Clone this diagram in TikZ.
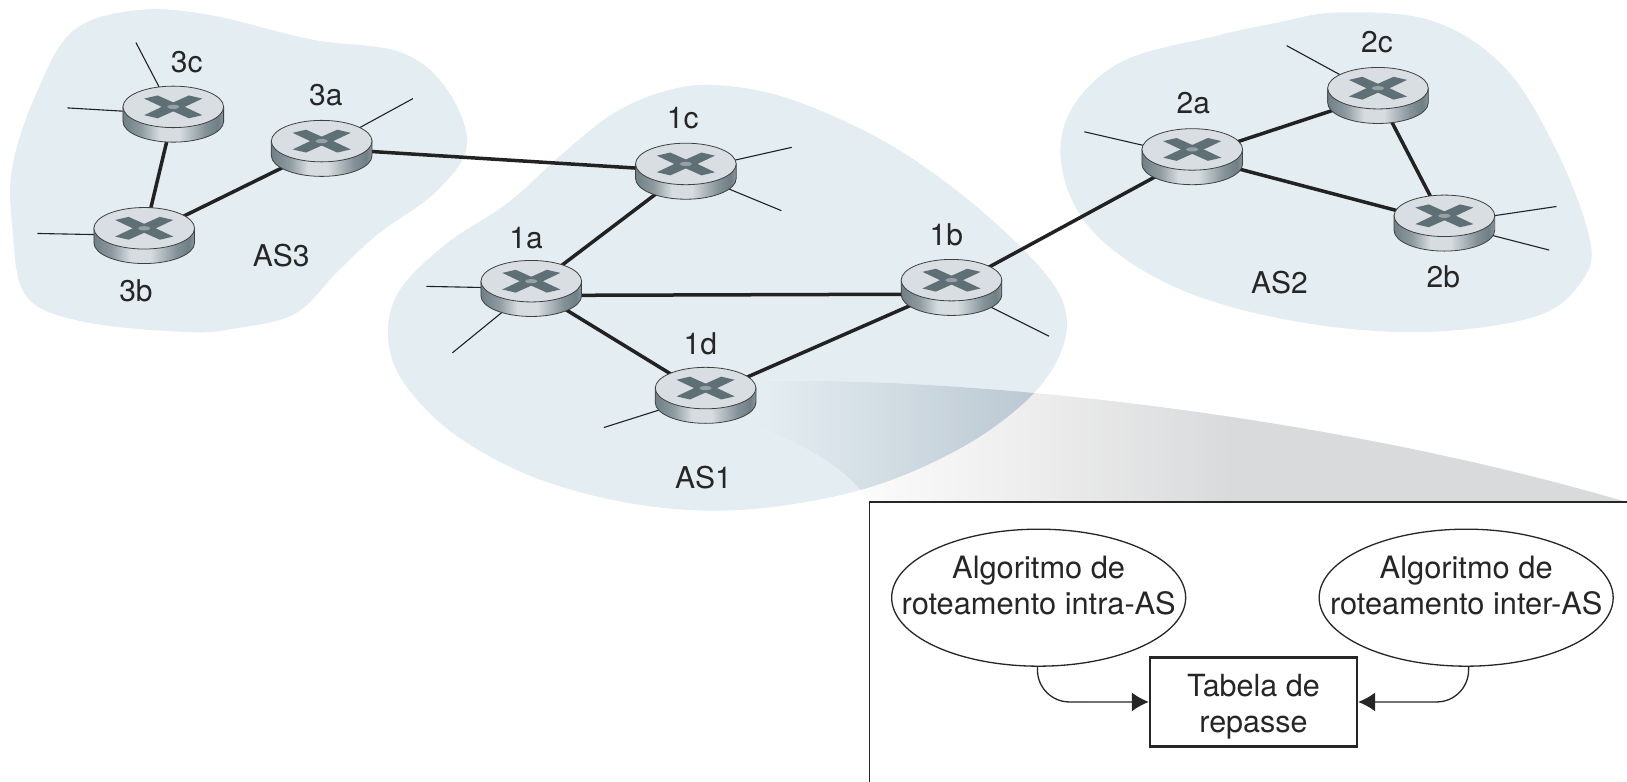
\documentclass[tikz,border=0pt]{standalone}
\usepackage{fontspec}
\setmainfont{TeX Gyre Heros}
\usetikzlibrary{positioning,shapes.geometric,arrows.meta,backgrounds}

\definecolor{cloud}{HTML}{E4EDF2}
\definecolor{routertop}{HTML}{D8DEE2}
\definecolor{routermark}{HTML}{5F6F76}
\definecolor{routerside}{HTML}{6F7F86}
\definecolor{routerlight}{HTML}{D6DCDF}
\definecolor{linkcol}{HTML}{222222}
\definecolor{conedark}{HTML}{B9C6D0}
\definecolor{conegrey}{HTML}{D9DADC}

\pgfdeclarehorizontalshading{coneout}{100bp}{color(0bp)=(white); color(30bp)=(white); color(42bp)=(white!93!black); color(53bp)=(conegrey); color(100bp)=(conegrey)}
\pgfdeclarehorizontalshading{conein}{100bp}{color(0bp)=(cloud); color(27bp)=(cloud); color(43bp)=(conedark); color(100bp)=(conedark)}
\pgfdeclarehorizontalshading{routerbody}{100bp}{color(0bp)=(routerside); color(25bp)=(routerside); color(34bp)=(routerside!70!routerlight); color(43bp)=(routerlight); color(53bp)=(routerlight); color(66bp)=(routerside!80!routerlight); color(72bp)=(routerside); color(75bp)=(routerside!75!routerlight); color(100bp)=(routerside)}

\tikzset{
  as/.style={fill=cloud, draw=none},
  router/.style={ellipse, minimum width=100pt, minimum height=55pt, inner sep=0pt},
  body/.style={draw=black!75, line width=0.8pt, shading=routerbody},
  routerhead/.style={draw=black!75, line width=0.8pt, fill=routertop},
  link/.style={draw=linkcol, line width=3.5pt},
  stub/.style={draw=linkcol, line width=1.1pt},
  tag/.style={font=\fontsize{30}{34}\selectfont, text=black!85},
  algo/.style={ellipse, draw=black!85, line width=1.3pt, fill=white, minimum width=294pt, minimum height=137pt, inner sep=0pt},
  algotext/.style={font=\fontsize{30.8}{36}\selectfont, align=center, text=black!85, yshift=12pt},
  tabela/.style={rectangle, draw=black!85, line width=2.4pt, fill=white, minimum width=207pt, minimum height=89pt, align=center, inner sep=0pt, font=\fontsize{30.5}{36}\selectfont, text=black!85},
  feed/.style={draw=black!85, line width=1.3pt, rounded corners=32pt, -{Latex[length=17pt,width=19pt]}},
}

\def\asone{(690,82) (760,95) (850,135) (930,190) (1000,255) (1027,300) (1020,345) (985,390) (920,435) (830,472) (720,491) (620,487) (520,462) (440,420) (390,370) (374,325) (385,280) (430,235) (490,195) (540,150) (590,110) (640,88)}
\def\astwo{(1290,12) (1380,20) (1450,65) (1500,145) (1532,230) (1525,270) (1480,305) (1370,320) (1250,310) (1140,280) (1060,230) (1025,170) (1030,110) (1080,60) (1170,35) (1230,22)}
\def\asthree{(130,10) (200,14) (300,38) (385,50) (430,85) (450,140) (420,185) (365,225) (325,262) (285,302) (230,316) (180,320) (80,310) (25,285) (12,220) (12,160) (35,90) (70,30)}
\def\cone{(700,370) -- (735,367) .. controls (964,364) and (1301,405) .. (1568,484) -- (838,484) .. controls (815,448) and (761,419) .. (708,407) -- cycle}

\begin{document}
\begin{tikzpicture}[x=1.0376pt, y=-1.0376pt]
  \useasboundingbox (0,0) rectangle (1568,753.6);

  %%% Routers %%%

  \foreach \name/\x/\y in {3c/167/110, 3a/310/143, 3b/139/227, 1c/661/165, 1a/512/278, 1b/917/277, 1d/680/381, 2a/1149/151, 2c/1328/92, 2b/1392/215}{
      \node[router] (\name) at (\x,\y) {};
      \begin{scope}[shift={(\x,\y)}]
        \shadedraw[body] (-48.5,-7) -- (-48.5,7) .. controls (-48.5,18) and (-26.8,27) .. (0,27) .. controls (26.8,27) and (48.5,18) .. (48.5,7) -- (48.5,-7) -- cycle;
        \path[routerhead] (0,-7) ellipse [x radius=48.5, y radius=20];
        \foreach \sx in {1,-1}
        \foreach \sy in {1,-1}
        \fill[routermark, shift={(0,-7)}, xscale=\sx, yscale=\sy] (-28,-8) -- (-15,-11) -- (4,-2.5) -- (-9,1) -- cycle;
        \fill[routermark!55!routertop] (0,-7) ellipse [x radius=6, y radius=2];
      \end{scope}
    }

  %%% Clouds %%%

  \begin{scope}[on background layer]
    \fill[as] plot[smooth cycle, tension=0.6] coordinates {\asone};
    \fill[as] plot[smooth cycle, tension=0.6] coordinates {\astwo};
    \fill[as] plot[smooth cycle, tension=0.6] coordinates {\asthree};
    \shade[shading=coneout] \cone;
    \begin{scope}
      \clip plot[smooth cycle, tension=0.6] coordinates {\asone};
      \shade[shading=conein] \cone;
    \end{scope}

    \foreach \source/\dest in {3c/3b, 3b/3a, 3a/1c, 1c/1a, 1a/1d, 1d/1b, 1b/2a, 2a/2c, 2a/2b, 2c/2b}
    \draw[link] (\source) -- (\dest);
    \draw[link] (1a.-8) -- (1b.188);

    \foreach \i/\source/\x/\y in {a/3c/131/41, b/3c/65/104, c/3a/398/95, d/3b/36/225, e/1c/763/142, f/1c/753/203, g/1a/411/276, h/1a/436/340, i/1b/1011/324, j/1d/582/412, k/2a/1045/127, l/2c/1240/44, m/2b/1500/199, n/2b/1493/241}{
        \coordinate (stub\i) at (\x,\y);
        \draw[stub] (\source) -- (stub\i);
      }
  \end{scope}

  %%% Labels %%%

  \foreach \name/\x/\y/\txt in {l3c/180/60/3c, l3a/314/92/3a, l3b/131/280/3b, l1c/658/114/1c, l1a/507/229/1a, l1b/912/226/1b, l1d/675/331/1d, l2a/1150/99/2a, l2c/1327/41/2c, l2b/1391/267/2b, as3/271/246/AS3, as1/678/460/AS1, as2/1233/272/AS2}
  \node[tag] (\name) at (\x,\y) {\txt};

  %%% Zoomed box %%%

  \draw[draw=black!85, line width=1.6pt, fill=white] (838,753.6) -- (838,484) -- (1568,484);

  \node[algo, label={[algotext]center:Algoritmo de\\roteamento intra-AS}] (intra) at (1001,576) {};
  \node[algo, label={[algotext]center:Algoritmo de\\roteamento inter-AS}] (inter) at (1413,576) {};
  \node[tabela] (tab) at (1208,676.5) {\rule{0pt}{32pt}Tabela de\\repasse};

  \draw[feed] (intra.-91) |- (tab.west);
  \draw[feed] (inter.-88) |- (tab.east);
\end{tikzpicture}
\end{document}
